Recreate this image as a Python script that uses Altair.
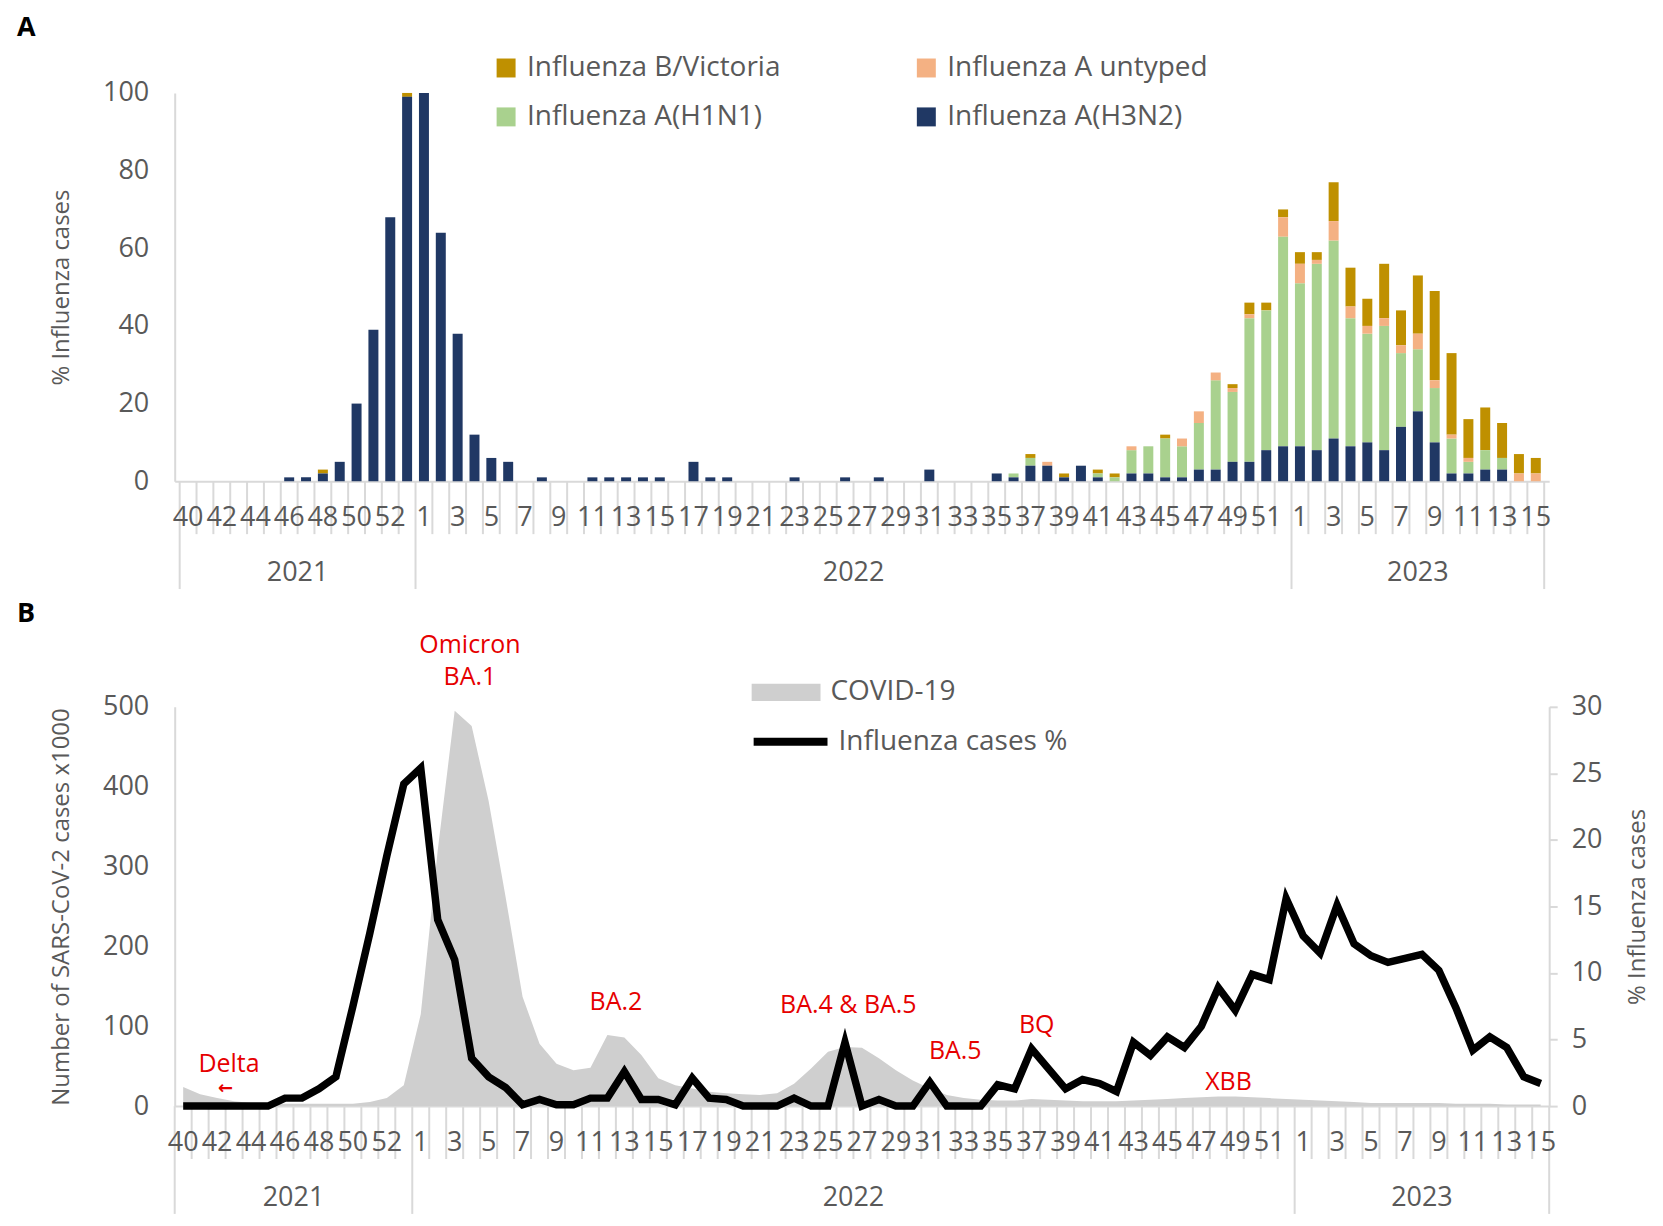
import altair as alt
import pandas as pd

# ---------------- data ----------------
weeks_2021 = [40, 41, 42, 43, 44, 45, 46, 47, 48, 49, 50, 51, 52, 53]
weeks_2022 = list(range(1, 53))
weeks_2023 = list(range(1, 16))
year_names = ["2021", "2022", "2023"]
year_weeks = [weeks_2021, weeks_2022, weeks_2023]

h3n2 = [0, 0, 0, 0, 0, 0, 1, 1, 2, 5,
        20, 39, 68, 99, 100, 64, 38, 12, 6, 5,
        0, 1, 0, 0, 1, 1, 1, 1, 1, 0,
        5, 1, 1, 0, 0, 0, 1, 0, 0, 1,
        0, 1, 0, 0, 3, 0, 0, 0, 2, 1,
        4, 4, 1, 4, 1, 0, 2, 2, 1, 1,
        3, 3, 5, 5, 8, 9, 9, 8, 11, 9,
        10, 8, 14, 18, 10, 2, 2, 3, 3, 0,
        0]
h1n1 = [0, 0, 0, 0, 0, 0, 0, 0, 0, 0,
        0, 0, 0, 0, 0, 0, 0, 0, 0, 0,
        0, 0, 0, 0, 0, 0, 0, 0, 0, 0,
        0, 0, 0, 0, 0, 0, 0, 0, 0, 0,
        0, 0, 0, 0, 0, 0, 0, 0, 0, 1,
        2, 0, 0, 0, 1, 1, 6, 7, 10, 8,
        12, 23, 18, 37, 36, 54, 42, 48, 51, 33,
        28, 32, 19, 16, 14, 9, 3, 5, 3, 0,
        0]
a_untyped = [0, 0, 0, 0, 0, 0, 0, 0, 0, 0,
             0, 0, 0, 0, 0, 0, 0, 0, 0, 0,
             0, 0, 0, 0, 0, 0, 0, 0, 0, 0,
             0, 0, 0, 0, 0, 0, 0, 0, 0, 0,
             0, 0, 0, 0, 0, 0, 0, 0, 0, 0,
             0, 1, 0, 0, 0, 0, 1, 0, 0, 2,
             3, 2, 1, 1, 0, 5, 5, 1, 5, 3,
             2, 2, 2, 4, 2, 1, 1, 0, 0, 2,
             2]
b_victoria = [0, 0, 0, 0, 0, 0, 0, 0, 1, 0,
              0, 0, 0, 1, 0, 0, 0, 0, 0, 0,
              0, 0, 0, 0, 0, 0, 0, 0, 0, 0,
              0, 0, 0, 0, 0, 0, 0, 0, 0, 0,
              0, 0, 0, 0, 0, 0, 0, 0, 0, 0,
              1, 0, 1, 0, 1, 1, 0, 0, 1, 0,
              0, 0, 1, 3, 2, 2, 3, 2, 10, 10,
              7, 14, 9, 15, 23, 21, 10, 11, 9, 5,
              4]
covid_k = [24, 15, 10, 6, 4, 3, 3, 3, 3, 3,
           3, 5, 10, 26, 115, 320, 495, 476, 382, 262,
           137, 78, 53, 45, 48, 89, 86, 64, 35, 26,
           22, 18, 16, 15, 14, 16, 28, 47, 68, 74,
           73, 60, 45, 32, 22, 14, 10, 8, 7, 7,
           9, 8, 7, 6, 6, 6, 7, 8, 9, 10,
           11, 12, 12, 11, 10, 9, 8, 7, 6, 5,
           4, 4, 4, 4, 4, 3, 3, 3, 2, 2,
           2]
flu_pct = [0, 0, 0, 0, 0, 0, 0.6, 0.6, 1.3, 2.2,
           7.5, 13.0, 18.8, 24.2, 25.4, 14.0, 11.0, 3.6, 2.2, 1.4,
           0.1, 0.5, 0.1, 0.1, 0.6, 0.6, 2.6, 0.5, 0.5, 0.1,
           2.1, 0.6, 0.5, 0, 0, 0, 0.6, 0, 0, 4.8,
           0, 0.5, 0, 0, 1.8, 0, 0, 0, 1.6, 1.3,
           4.3, 2.8, 1.3, 2.0, 1.7, 1.1, 4.8, 3.8, 5.2, 4.4,
           6.0, 8.9, 7.2, 9.9, 9.5, 15.6, 12.8, 11.5, 15.1, 12.2,
           11.3, 10.8, 11.1, 11.4, 10.2, 7.4, 4.2, 5.2, 4.4, 2.2,
           1.7]

# legend order (column-major in a 2-column legend)
series_names = ["Influenza B/Victoria", "Influenza A(H1N1)",
                "Influenza A untyped", "Influenza A(H3N2)"]
series_colors = ["#bf9000", "#a9d18e", "#f4b183", "#203864"]
stack_values = [b_victoria, h1n1, a_untyped, h3n2]
stack_rank = [3, 1, 2, 0]

annot_text = ["Omicron", "BA.1", "BA.2", "BA.4 & BA.5", "BA.5", "BQ", "XBB", "Delta"]
annot_week = [17.4, 17.4, 26.0, 39.7, 46.0, 50.8, 62.1, 3.2]
annot_value = [577, 537, 130, 127, 69, 101, 30, 53]

# ---------------- tables ----------------
FONT = "Open Sans"
TXT = "#595959"
GRID = "#d9d9d9"
N = sum(len(w) for w in year_weeks)
STEP = 17
W = N * STEP
HA = 389
HB = 400

weeks_rows = []
bounds_rows = []
years_rows = []
i = 0
for name, wk in zip(year_names, year_weeks):
    start = i
    bounds_rows.append({"xpos": start, "long": 1})
    for j, w in enumerate(wk):
        weeks_rows.append({"xpos": i + 0.5, "label": str(w) if j % 2 == 0 else ""})
        if j > 0:
            bounds_rows.append({"xpos": i, "long": 0})
        i += 1
    years_rows.append({"xpos": (start + i) / 2, "label": name})
bounds_rows.append({"xpos": i, "long": 1})
weeks_df = pd.DataFrame(weeks_rows)
bounds_df = pd.DataFrame(bounds_rows)
years_df = pd.DataFrame(years_rows)

bar_rows = []
for name, vals, rank in zip(series_names, stack_values, stack_rank):
    for k, v in enumerate(vals):
        if v > 0:
            bar_rows.append({"xpos": k + 0.5, "value": v, "series": name, "rank": rank})
bars_df = pd.DataFrame(bar_rows)

covid_df = pd.DataFrame({"xpos": [k + 0.5 for k in range(N)], "yv": covid_k,
                         "cseries": ["COVID-19"] * N})
flu_df = pd.DataFrame({"xpos": [k + 0.5 for k in range(N)], "pct": flu_pct,
                       "lseries": ["Influenza cases %"] * N})
annot_df = pd.DataFrame({"xpos": annot_week, "yv": annot_value, "label": annot_text})
arrow_df = pd.DataFrame({"xpos": [3.0], "yv": [22], "label": ["\u2190"]})

x_axis = alt.Axis(title=None, labels=False, ticks=False, grid=False,
                  domainColor=GRID, domainWidth=2)
X = alt.X("xpos:Q", scale=alt.Scale(domain=[0, N], nice=False, zero=False), axis=x_axis)


def x_decor(H):
    short = alt.Chart(bounds_df).transform_filter("datum.long == 0").mark_rule(
        color=GRID, strokeWidth=2).encode(x=X, y=alt.value(H), y2=alt.value(H + 53))
    long = alt.Chart(bounds_df).transform_filter("datum.long == 1").mark_rule(
        color=GRID, strokeWidth=2).encode(x=X, y=alt.value(H), y2=alt.value(H + 108))
    wtxt = alt.Chart(weeks_df).mark_text(
        font=FONT, fontSize=27, color=TXT, baseline="middle", align="center").encode(
        x=X, y=alt.value(H + 37), text="label:N")
    ytxt = alt.Chart(years_df).mark_text(
        font=FONT, fontSize=27, color=TXT, baseline="middle", align="center").encode(
        x=X, y=alt.value(H + 92), text="label:N")
    return [short, long, wtxt, ytxt]


def left_axis(title, values):
    return alt.Axis(title=title, values=values, grid=False, ticks=False, tickSize=0,
                    domainColor=GRID, domainWidth=2, labelPadding=26,
                    labelFont=FONT, labelFontSize=27, labelColor=TXT,
                    titleFont=FONT, titleFontSize=24, titleColor=TXT,
                    titleFontWeight="normal", titlePadding=29,
                    minExtent=72, maxExtent=72)


# ---------------- panel A ----------------
bars = alt.Chart(bars_df).mark_bar(size=10).encode(
    x=X,
    y=alt.Y("value:Q", stack="zero", scale=alt.Scale(domain=[0, 100], nice=False),
            axis=left_axis("% Influenza cases", [0, 20, 40, 60, 80, 100])),
    color=alt.Color("series:N",
                    scale=alt.Scale(domain=series_names, range=series_colors),
                    legend=alt.Legend(title=None, orient="none", legendX=318, legendY=-39,
                                      columns=2, symbolType="square", symbolSize=361,
                                      symbolStrokeWidth=0, labelFont=FONT, labelFontSize=28,
                                      labelColor=TXT, labelOffset=7, labelLimit=500,
                                      rowPadding=21, columnPadding=132, padding=0)),
    order=alt.Order("rank:Q"),
)

panelA = alt.layer(bars, *x_decor(HA)).properties(
    width=W, height=HA,
    title=alt.TitleParams("A", anchor="start", frame="group", dx=-158, offset=12,
                          font=FONT, fontSize=27, fontWeight="bold", color="black"))

# ---------------- panel B ----------------
YB = alt.Y("yv:Q", scale=alt.Scale(domain=[0, 500], nice=False),
           axis=left_axis("Number of SARS-CoV-2 cases x1000", [0, 100, 200, 300, 400, 500]))

area = alt.Chart(covid_df).mark_area(opacity=1).encode(
    x=X, y=YB,
    fill=alt.Fill("cseries:N", scale=alt.Scale(domain=["COVID-19"], range=["#cfcfcf"]),
                  legend=alt.Legend(title=None, orient="none", legendX=578, legendY=-49,
                                    symbolType="M-1,-0.25H1V0.25H-1Z", symbolSize=4761,
                                    symbolStrokeWidth=0, labelFont=FONT, labelFontSize=28,
                                    labelColor=TXT, labelOffset=10, labelLimit=500,
                                    padding=0)),
)
annots = alt.Chart(annot_df).mark_text(
    font=FONT, fontSize=25, color="#e60000", align="center", baseline="middle").encode(
    x=X, y=YB, text="label:N")
arrow = alt.Chart(arrow_df).mark_text(
    font="DejaVu Sans", fontSize=18, fontWeight="bold", color="#e60000",
    align="center", baseline="middle").encode(x=X, y=YB, text="label:N")

left_layer = alt.layer(area, annots, arrow, *x_decor(HB))

line = alt.Chart(flu_df).mark_line(strokeWidth=7.5).encode(
    x=X,
    y=alt.Y("pct:Q", scale=alt.Scale(domain=[0, 30], nice=False),
            axis=alt.Axis(title="% Influenza cases", orient="right",
                          values=[0, 5, 10, 15, 20, 25, 30], grid=False,
                          ticks=True, tickSize=8, tickColor=GRID, tickWidth=2,
                          domainColor=GRID, domainWidth=2, labelPadding=14,
                          labelFont=FONT, labelFontSize=27, labelColor=TXT,
                          titleFont=FONT, titleFontSize=24, titleColor=TXT,
                          titleFontWeight="normal", titleAngle=270, titleBaseline="top",
                          titlePadding=24)),
    stroke=alt.Stroke("lseries:N",
                      scale=alt.Scale(domain=["Influenza cases %"], range=["#000000"]),
                      legend=alt.Legend(title=None, orient="none", legendX=576, legendY=-6,
                                        symbolType="stroke", symbolSize=5476,
                                        symbolStrokeWidth=8, labelFont=FONT,
                                        labelFontSize=28, labelColor=TXT, labelOffset=7,
                                        labelLimit=500, padding=0)),
)

panelB = alt.layer(left_layer, line).resolve_scale(y="independent").properties(
    width=W, height=HB,
    title=alt.TitleParams("B", anchor="start", frame="group", dx=-158, offset=5,
                          font=FONT, fontSize=27, fontWeight="bold", color="black"))

chart = alt.vconcat(panelA, panelB, spacing=10).resolve_scale(
    color="independent", fill="independent", stroke="independent"
).resolve_legend(
    color="independent", fill="independent", stroke="independent"
).properties(
    padding={"left": 9, "top": 5, "right": 5, "bottom": 5}
).configure_view(strokeWidth=0)

chart.save("out.html", embed_options={"renderer": "svg", "actions": False})
